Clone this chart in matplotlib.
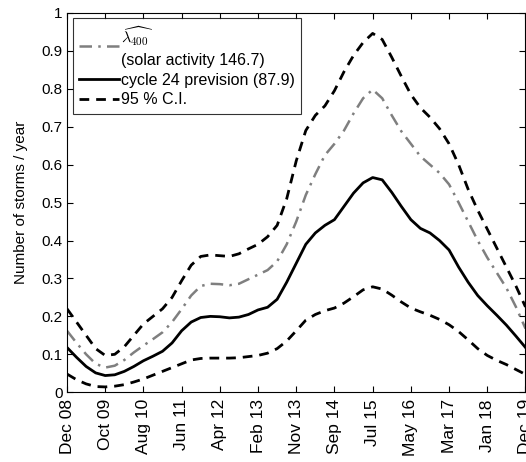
import matplotlib
matplotlib.use("Agg")
import matplotlib.pyplot as plt

plt.rcParams["font.family"] = ["Liberation Sans", "DejaVu Sans"]
plt.rcParams["mathtext.fontset"] = "cm"

# tick labels (equally spaced along the axis)
tick_labels = ["Dec 08", "Oct 09", "Aug 10", "Jun 11", "Apr 12", "Feb 13", "Nov 13",
               "Sep 14", "Jul 15", "May 16", "Mar 17", "Jan 18", "Dec 19"]

# sample positions, in tick units (quarter steps)
t_vals = [i * 0.25 for i in range(49)]

# values at each quarter tick
prevision = [0.118, 0.092, 0.068, 0.051, 0.044, 0.046, 0.055, 0.068,
             0.083, 0.095, 0.108, 0.130, 0.162, 0.185, 0.197, 0.200,
             0.199, 0.196, 0.198, 0.205, 0.217, 0.224, 0.245, 0.290,
             0.340, 0.390, 0.420, 0.440, 0.455, 0.490, 0.525, 0.552,
             0.566, 0.560, 0.527, 0.490, 0.455, 0.432, 0.420, 0.400,
             0.375, 0.330, 0.290, 0.255, 0.228, 0.203, 0.177, 0.148, 0.118]

lambda_400 = [0.162, 0.130, 0.100, 0.075, 0.065, 0.070, 0.085, 0.105,
              0.123, 0.140, 0.158, 0.185, 0.219, 0.255, 0.280, 0.286,
              0.285, 0.282, 0.286, 0.298, 0.310, 0.322, 0.345, 0.390,
              0.450, 0.520, 0.575, 0.625, 0.655, 0.690, 0.735, 0.775,
              0.798, 0.775, 0.730, 0.688, 0.655, 0.622, 0.600, 0.578,
              0.548, 0.500, 0.450, 0.400, 0.355, 0.315, 0.275, 0.225, 0.168]

ci_upper = [0.220, 0.185, 0.150, 0.115, 0.097, 0.100, 0.120, 0.150,
            0.180, 0.200, 0.220, 0.250, 0.294, 0.335, 0.358, 0.362,
            0.360, 0.358, 0.365, 0.378, 0.390, 0.410, 0.440, 0.510,
            0.610, 0.690, 0.730, 0.755, 0.795, 0.845, 0.888, 0.922,
            0.946, 0.930, 0.883, 0.833, 0.785, 0.750, 0.725, 0.695,
            0.655, 0.600, 0.535, 0.480, 0.430, 0.380, 0.330, 0.280, 0.225]

ci_lower = [0.048, 0.033, 0.022, 0.015, 0.014, 0.016, 0.020, 0.027,
            0.035, 0.045, 0.055, 0.065, 0.075, 0.085, 0.089, 0.090,
            0.090, 0.090, 0.091, 0.094, 0.097, 0.103, 0.115, 0.135,
            0.162, 0.190, 0.205, 0.215, 0.222, 0.235, 0.252, 0.270,
            0.278, 0.272, 0.256, 0.238, 0.222, 0.212, 0.203, 0.192,
            0.178, 0.160, 0.138, 0.115, 0.097, 0.084, 0.073, 0.060, 0.047]

fig = plt.figure(figsize=(5.26, 4.62), dpi=100)
ax = fig.add_axes([0.1274, 0.151, 0.8716, 0.821])

ax.plot(t_vals, lambda_400, color="#7f7f7f", lw=1.8, dashes=(5, 2.5, 1, 2.5),
        label="$\\widehat{\\lambda_{400}}$\n(solar activity 146.7)")
ax.plot(t_vals, prevision, color="black", lw=2.0, label="cycle 24 prevision (87.9)")
ax.plot(t_vals, ci_upper, color="black", lw=2.0, dashes=(3.5, 2.5), label="95 % C.I.")
ax.plot(t_vals, ci_lower, color="black", lw=2.0, dashes=(3.5, 2.5))

ax.set_xlim(0, 12)
ax.set_ylim(0, 1)
ax.set_xticks(range(len(tick_labels)))
ax.set_xticklabels(tick_labels, rotation=90, fontsize=12.5)
ax.set_yticks([i / 10 for i in range(11)])
ax.set_yticklabels(["0", "0.1", "0.2", "0.3", "0.4", "0.5", "0.6", "0.7", "0.8", "0.9", "1"],
                   fontsize=11)
ax.tick_params(direction="in", top=True, right=True, length=4, width=0.8, pad=3)
ax.tick_params(axis="x", pad=5)
for s in ax.spines.values():
    s.set_linewidth(0.8)
ax.set_ylabel("Number of storms / year", fontsize=11, labelpad=10)

leg = ax.legend(loc="upper left", bbox_to_anchor=(0.013, 0.987), borderaxespad=0,
                fancybox=False, frameon=True, edgecolor="black", fontsize=11.5,
                handlelength=2.5, handletextpad=0.1, labelspacing=0.3,
                borderpad=0.4)
leg.get_frame().set_linewidth(0.8)
leg.get_texts()[0].set_linespacing(1.4)

fig.savefig("out.png", dpi=100)
